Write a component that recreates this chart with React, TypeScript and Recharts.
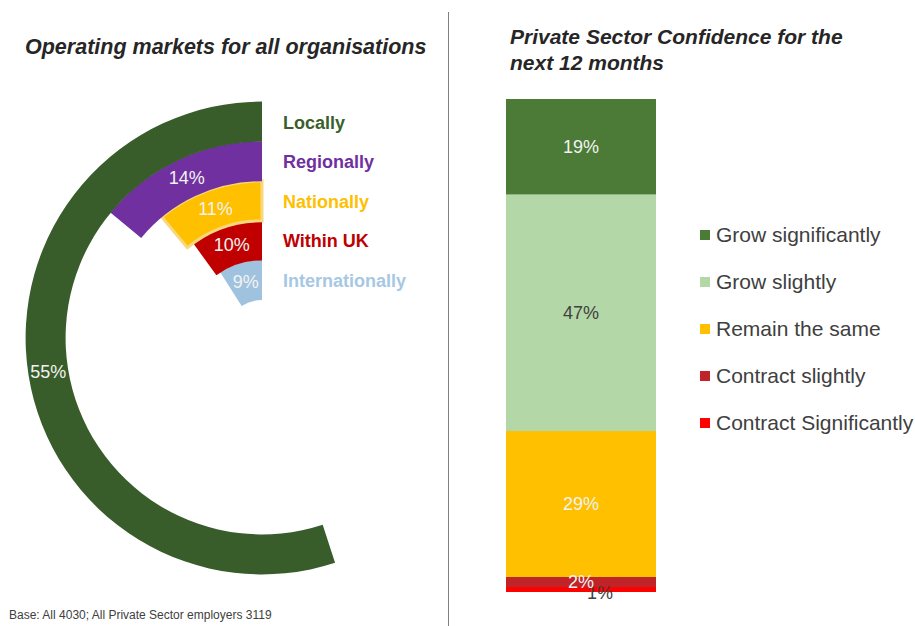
import {
  RadialBarChart,
  RadialBar,
  PolarAngleAxis,
  Cell,
  LabelList,
  BarChart,
  Bar,
  XAxis,
  YAxis,
  Legend,
} from "recharts";

// operating markets (innermost ring first)
const marketNames = ["Internationally", "Within UK", "Nationally", "Regionally", "Locally"];
const marketValues = [9, 10, 11, 14, 55];
const marketColors = ["#9FC3DF", "#C00000", "#FFC000", "#7030A0", "#385D2A"];
const marketTextColors = ["#A6C8E3", "#C00000", "#FFC000", "#7030A0", "#3A5F2B"];

// private sector confidence (bottom of stack first)
const confidenceKeys = ["contractSig", "contractSlight", "remain", "growSlight", "growSig"];
const confidenceLabels = [
  "Contract Significantly",
  "Contract slightly",
  "Remain the same",
  "Grow slightly",
  "Grow significantly",
];
const confidenceValues = [1, 2, 29, 47, 19];
const confidenceColors = ["#FF0000", "#BE2428", "#FFC000", "#B4D7A8", "#4B7B37"];
const confidenceTextColors = ["#404040", "#F2F2F2", "#F2F2F2", "#404040", "#F2F2F2"];

const FONT = "'Liberation Sans', Arial, sans-serif";

const marketData = marketNames.map((name, i) => ({
  name,
  value: marketValues[i],
}));

const confidenceRow: Record<string, number | string> = { name: "All" };
confidenceKeys.forEach((k, i) => {
  confidenceRow[k] = confidenceValues[i];
});
const confidenceData = [confidenceRow];

const arcValueLabel = (props: any) => {
  const { viewBox, value } = props;
  if (!viewBox) return null;
  const { cx, cy, innerRadius, outerRadius, startAngle, endAngle } = viewBox;
  const mid = (((startAngle + endAngle) / 2) * Math.PI) / 180;
  const r = (innerRadius + outerRadius) / 2;
  return (
    <text
      x={cx + r * Math.cos(mid)}
      y={cy - r * Math.sin(mid)}
      textAnchor="middle"
      dominantBaseline="central"
      fill="#F2F2F2"
      fontSize={18}
      fontFamily={FONT}
    >
      {value}%
    </text>
  );
};

const arcNameLabel = (props: any) => {
  const { viewBox, value } = props;
  if (!viewBox) return null;
  const { cx, cy, innerRadius, outerRadius } = viewBox;
  const r = (innerRadius + outerRadius) / 2;
  const idx = marketNames.indexOf(value);
  return (
    <text
      x={cx + 21}
      y={cy - r + 1}
      textAnchor="start"
      dominantBaseline="central"
      fill={marketTextColors[idx]}
      fontSize={18}
      fontWeight="bold"
      fontFamily={FONT}
    >
      {value}
    </text>
  );
};

const smallOffsetLabel = (props: any) => {
  const { x, y, width, height, value } = props;
  return (
    <text
      x={x + width / 2 + 19}
      y={y + height / 2 + 4}
      textAnchor="middle"
      dominantBaseline="central"
      fill="#404040"
      fontSize={18}
      fontFamily={FONT}
    >
      {value}%
    </text>
  );
};

const renderLegend = (props: any) => {
  const items = [...(props.payload || [])].sort(
    (a: any, b: any) => confidenceKeys.indexOf(b.dataKey) - confidenceKeys.indexOf(a.dataKey)
  );
  return (
    <div style={{ fontFamily: FONT }}>
      {items.map((item: any) => (
        <div
          key={item.value}
          style={{
            height: 47,
            display: "flex",
            alignItems: "center",
            whiteSpace: "nowrap",
            fontSize: 21,
            color: "#404040",
          }}
        >
          <span
            style={{
              width: 10,
              height: 10,
              background: item.color,
              marginRight: 6,
              display: "inline-block",
            }}
          />
          {item.value}
        </div>
      ))}
    </div>
  );
};

export default function App() {
  return (
    <div
      style={{
        position: "absolute",
        left: 0,
        top: 0,
        width: 915,
        height: 626,
        background: "#fff",
        overflow: "hidden",
        fontFamily: FONT,
      }}
    >
      <div
        style={{
          position: "absolute",
          left: 25,
          top: 35,
          fontSize: 21.5,
          fontWeight: "bold",
          fontStyle: "italic",
          color: "#262626",
          whiteSpace: "nowrap",
        }}
      >
        Operating markets for all organisations
      </div>
      <div
        style={{
          position: "absolute",
          left: 510,
          top: 24,
          fontSize: 21,
          lineHeight: "26px",
          fontWeight: "bold",
          fontStyle: "italic",
          color: "#262626",
        }}
      >
        Private Sector Confidence for the
        <br />
        next 12 months
      </div>
      <div
        style={{
          position: "absolute",
          left: 448,
          top: 12,
          width: 1,
          height: 614,
          background: "#808080",
        }}
      />
      <div
        style={{
          position: "absolute",
          left: 9,
          top: 608,
          fontSize: 12,
          color: "#404040",
          whiteSpace: "nowrap",
        }}
      >
        Base: All 4030; All Private Sector employers 3119
      </div>

      <div style={{ position: "absolute", left: 0, top: 0 }}>
        <RadialBarChart
          width={448}
          height={626}
          cx={262}
          cy={338}
          innerRadius={38}
          outerRadius={236}
          startAngle={90}
          endAngle={450}
          barCategoryGap={0}
          data={marketData}
          margin={{ top: 0, right: 0, bottom: 0, left: 0 }}
        >
          <PolarAngleAxis type="number" domain={[0, 100]} tick={false} axisLine={false} />
          <RadialBar dataKey="value" isAnimationActive={false}>
            {marketData.map((d, i) => (
              <Cell
                key={d.name}
                fill={marketColors[i]}
                stroke={d.name === "Nationally" ? "#F8D77E" : "none"}
                strokeWidth={d.name === "Nationally" ? 3 : 0}
              />
            ))}
            <LabelList dataKey="value" content={arcValueLabel} />
            <LabelList dataKey="name" content={arcNameLabel} />
          </RadialBar>
        </RadialBarChart>
      </div>

      <div style={{ position: "absolute", left: 460, top: 0 }}>
        <BarChart
          width={455}
          height={626}
          data={confidenceData}
          margin={{ top: 99, right: 213, bottom: 34, left: 0 }}
        >
          <XAxis dataKey="name" hide />
          <YAxis hide domain={[0, "dataMax"]} />
          <Legend
            layout="vertical"
            align="center"
            verticalAlign="middle"
            content={renderLegend}
            wrapperStyle={{ left: 240, top: 211, width: 215 }}
          />
          {confidenceKeys.map((k, i) => (
            <Bar
              key={k}
              dataKey={k}
              name={confidenceLabels[i]}
              stackId="a"
              fill={confidenceColors[i]}
              barSize={150}
              isAnimationActive={false}
            >
              {k === "contractSig" ? (
                <LabelList dataKey={k} content={smallOffsetLabel} />
              ) : (
                <LabelList
                  dataKey={k}
                  position="center"
                  fill={confidenceTextColors[i]}
                  fontSize={18}
                  fontFamily={FONT}
                  formatter={(v: any) => `${v}%`}
                />
              )}
            </Bar>
          ))}
        </BarChart>
      </div>
    </div>
  );
}
